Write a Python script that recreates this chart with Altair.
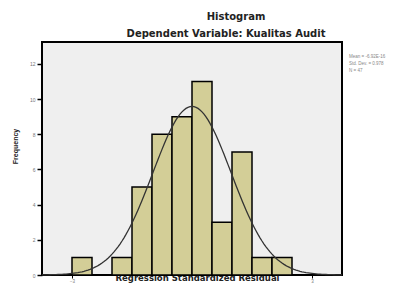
import altair as alt
import pandas as pd

# ---- data ----
bin_start = [-3.0, -2.5, -2.0, -1.5, -1.0, -0.5, 0.0, 0.5, 1.0, 1.5, 2.0]
bin_end = [-2.5, -2.0, -1.5, -1.0, -0.5, 0.0, 0.5, 1.0, 1.5, 2.0, 2.5]
counts = [1, 0, 1, 5, 8, 9, 11, 3, 7, 1, 1]

mean_val = 0.0
std_val = 0.978
n_val = 47
bin_width = 0.5

title_text = "Histogram"
subtitle_text = "Dependent Variable: Kualitas Audit"
stats_lines = ["Mean = -6.92E-16", "Std. Dev. = 0.978", "N = 47"]
x_title = "Regression Standardized Residual"
y_title = "Frequency"
y_ticks = [0, 2, 4, 6, 8, 10, 12]
x_ticks = [-3, 3]

hist_df = pd.DataFrame({"start": bin_start, "end": bin_end, "count": counts})

W, H = 300, 233
xscale = alt.Scale(domain=[-3.75, 3.75], nice=False, zero=False)
yscale = alt.Scale(domain=[0, 13.25], nice=False)

x_axis = alt.Axis(values=x_ticks, title=x_title, domain=False, tickColor="black",
                  tickSize=3, labelFontSize=4.5, labelColor="#777", labelPadding=0,
                  labelOverlap=False,
                  titleFontSize=8.5, titleFontWeight="bold", titleColor="#222",
                  titleY=2, titleBaseline="middle", titleX=155, grid=False,
                  titleFont="DejaVu Sans", labelFont="Liberation Sans")
y_axis = alt.Axis(values=y_ticks, title=y_title, domain=False, tickColor="black",
                  tickSize=5, tickWidth=1.5, labelFontSize=5, labelColor="#777", labelPadding=2,
                  labelOverlap=False,
                  titleFontSize=7, titleFontWeight="bold", titleColor="#222",
                  titleX=-27, titleY=104, titleAngle=-90, titleAlign="center",
                  titleBaseline="middle", grid=False,
                  titleFont="Liberation Sans", labelFont="Liberation Sans")

bars = alt.Chart(hist_df).transform_filter("datum.count > 0").mark_rect(
    fill="#D3CE97", stroke="black", strokeWidth=1.5
).encode(
    x=alt.X("start:Q", scale=xscale, axis=x_axis),
    x2="end:Q",
    y=alt.Y("count:Q", scale=yscale, axis=y_axis),
    y2=alt.datum(0),
)

curve = alt.Chart(alt.sequence(-3.75, 3.76, 0.05, as_="x")).transform_calculate(
    y=f"densityNormal(datum.x, {mean_val}, {std_val}) * {n_val} * {bin_width}"
).mark_line(color="#333", strokeWidth=1.3).encode(
    x=alt.X("x:Q", scale=xscale, axis=x_axis),
    y=alt.Y("y:Q", scale=yscale, axis=y_axis),
)

titles_df = pd.DataFrame({"t": [title_text, subtitle_text], "px": [194, 184], "py": [-25, -8]})
titles = alt.Chart(titles_df).mark_text(
    font="DejaVu Sans", fontSize=10, fontWeight="bold", color="#222", align="center", baseline="middle"
).encode(
    text="t:N",
    x=alt.X("px:Q", scale=None),
    y=alt.Y("py:Q", scale=None),
)

stats_df = pd.DataFrame({"t": stats_lines, "px": [307, 307, 307], "py": [15, 22, 29]})
stats = alt.Chart(stats_df).mark_text(
    font="Liberation Sans", fontSize=4.5, color="#888", align="left", baseline="middle"
).encode(
    text="t:N",
    x=alt.X("px:Q", scale=None),
    y=alt.Y("py:Q", scale=None),
)

chart = alt.layer(bars, curve, titles, stats).properties(
    width=W, height=H,
    autosize=alt.AutoSizeParams(type="none"),
    padding={"left": 34, "top": 34, "right": 52, "bottom": 8},
    background="white",
).configure_view(fill="#EFEFEF", stroke="black", strokeWidth=2)

chart.save("out.html", embed_options={"renderer": "svg", "actions": False})
